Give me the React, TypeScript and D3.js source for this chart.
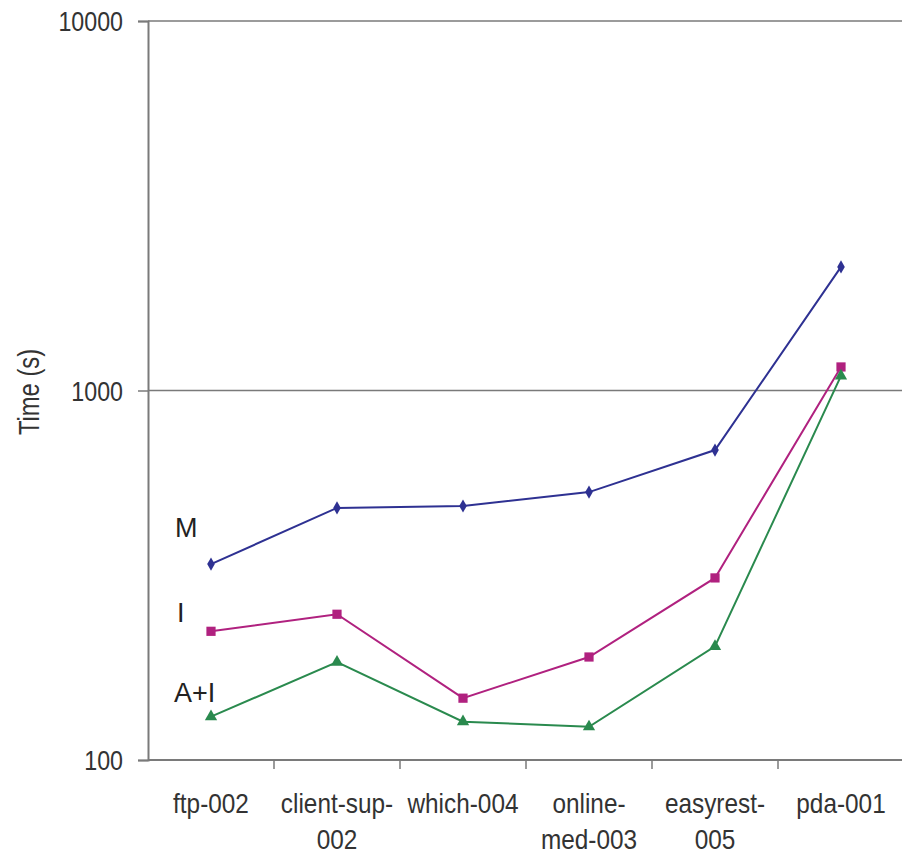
import { useEffect, useRef } from "react";
import * as d3 from "d3";

const categories = [
  ["ftp-002"],
  ["client-sup-", "002"],
  ["which-004"],
  ["online-", "med-003"],
  ["easyrest-", "005"],
  ["pda-001"],
];
const seriesM = [339, 481, 487, 531, 690, 2160];
const seriesI = [223, 248, 147, 190, 311, 1158];
const seriesAI = [131, 184, 127, 123, 203, 1095];
const yTicks = [100, 1000, 10000];
const seriesNames = ["M", "I", "A+I"];

const W = 902;
const H = 857;
const font = "'Liberation Sans', Arial, Helvetica, sans-serif";

const App = () => {
  const ref = useRef<SVGSVGElement>(null);

  useEffect(() => {
    const svg = d3.select(ref.current);
    svg.selectAll("*").remove();

    const left = 148;
    const right = 904;
    const top = 21;
    const bottom = 760;

    const x = d3
      .scaleBand()
      .domain(categories.map((c, i) => String(i)))
      .range([left, right]);
    const y = d3.scaleLog().domain([100, 10000]).range([bottom, top]);

    const axisColor = "#7a7a7a";
    const textColor = "#333";

    // grid lines at 1000 and 10000
    svg
      .selectAll(".grid")
      .data(yTicks.slice(1))
      .join("line")
      .attr("x1", left)
      .attr("x2", right)
      .attr("y1", (d) => y(d))
      .attr("y2", (d) => y(d))
      .attr("stroke", axisColor)
      .attr("stroke-width", 1.5);

    // y axis (labels drawn below, condensed)
    const yAxis = d3
      .axisLeft(y)
      .tickValues(yTicks)
      .tickFormat(() => "")
      .tickSize(10);
    const gy = svg.append("g").attr("transform", `translate(${left},0)`).call(yAxis);
    gy.select(".domain").attr("stroke", axisColor).attr("stroke-width", 2);
    gy.selectAll(".tick line").attr("stroke", axisColor).attr("stroke-width", 1.5);

    svg
      .selectAll(".ylab")
      .data(yTicks)
      .join("text")
      .attr("transform", (d) => `translate(${left - 25},${y(d) + 10}) scale(0.83,1)`)
      .attr("text-anchor", "end")
      .attr("font-family", font)
      .attr("font-size", 28)
      .attr("fill", textColor)
      .text((d) => String(d));

    // x axis line and boundary ticks
    svg
      .append("line")
      .attr("x1", left)
      .attr("x2", right)
      .attr("y1", bottom)
      .attr("y2", bottom)
      .attr("stroke", axisColor)
      .attr("stroke-width", 2);
    svg
      .selectAll(".xtick")
      .data(categories.slice(1).map((c, i) => String(i + 1)))
      .join("line")
      .attr("x1", (d) => x(d)!)
      .attr("x2", (d) => x(d)!)
      .attr("y1", bottom)
      .attr("y2", bottom + 9)
      .attr("stroke", axisColor)
      .attr("stroke-width", 1.5);

    // x labels
    const labels = svg
      .selectAll(".xlab")
      .data(categories)
      .join("text")
      .attr(
        "transform",
        (d, i) => `translate(${x(String(i))! + x.bandwidth() / 2},813) scale(0.87,1)`
      )
      .attr("text-anchor", "middle")
      .attr("font-family", font)
      .attr("font-size", 28)
      .attr("fill", textColor);
    labels
      .selectAll("tspan")
      .data((d) => d)
      .join("tspan")
      .attr("x", 0)
      .attr("y", (d, j) => j * 36)
      .text((d) => d);

    // y title
    svg
      .append("text")
      .attr("transform", `translate(39,392) rotate(-90) scale(0.82,1)`)
      .attr("text-anchor", "middle")
      .attr("font-family", font)
      .attr("font-size", 29)
      .attr("fill", textColor)
      .text("Time (s)");

    const line = d3
      .line<number>()
      .x((d, i) => x(String(i))! + x.bandwidth() / 2)
      .y((d) => y(d));

    const all = [
      { data: seriesM, color: "#2e3192", marker: d3.symbolDiamond, size: 50 },
      { data: seriesI, color: "#b0217f", marker: d3.symbolSquare, size: 85 },
      { data: seriesAI, color: "#2a8a4e", marker: d3.symbolTriangle, size: 65 },
    ];

    all.forEach((s) => {
      svg
        .append("path")
        .attr("d", line(s.data))
        .attr("fill", "none")
        .attr("stroke", s.color)
        .attr("stroke-width", 2);
      svg
        .append("g")
        .selectAll("path")
        .data(s.data)
        .join("path")
        .attr("transform", (d, i) => `translate(${x(String(i))! + x.bandwidth() / 2},${y(d)})`)
        .attr("d", d3.symbol().type(s.marker).size(s.size)())
        .attr("fill", s.color);
    });

    // series labels
    const labelPos = [
      [175, 537],
      [177, 622],
      [174, 702],
    ];
    svg
      .selectAll(".slab")
      .data(seriesNames)
      .join("text")
      .attr("x", (d, i) => labelPos[i][0])
      .attr("y", (d, i) => labelPos[i][1])
      .attr("font-family", font)
      .attr("font-size", 27)
      .attr("fill", "#222")
      .text((d) => d);
  }, []);

  return (
    <svg
      ref={ref}
      width={W}
      height={H}
      style={{ position: "absolute", left: 0, top: 0, background: "#fff" }}
    />
  );
};

export default App;
